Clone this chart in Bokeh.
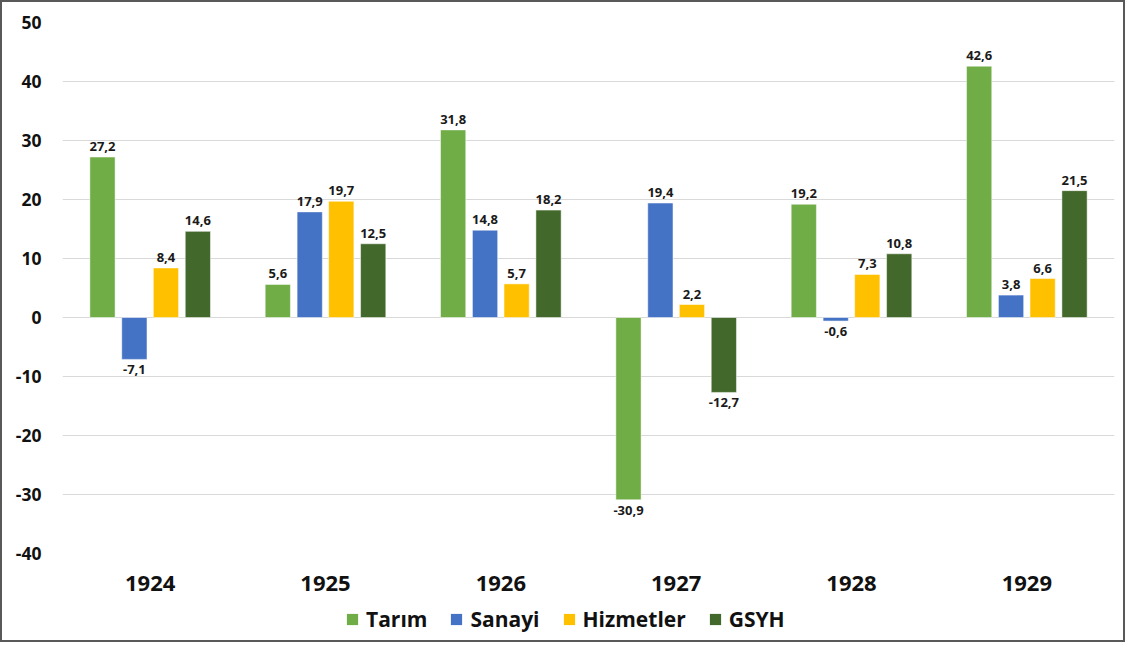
from bokeh.plotting import figure
from bokeh.layouts import column
from bokeh.models import ColumnDataSource, FactorRange, Range1d, Legend, LegendItem, SingleIntervalTicker, PrintfTickFormatter
from bokeh.transform import dodge
from bokeh.core.properties import value
from bokeh.embed import file_html
from bokeh.resources import INLINE

years = ["1924", "1925", "1926", "1927", "1928", "1929"]
series_names = ["Tarım", "Sanayi", "Hizmetler", "GSYH"]
tarim = [27.2, 5.6, 31.8, -30.9, 19.2, 42.6]
sanayi = [-7.1, 17.9, 14.8, 19.4, -0.6, 3.8]
hizmetler = [8.4, 19.7, 5.7, 2.2, 7.3, 6.6]
gsyh = [14.6, 12.5, 18.2, -12.7, 10.8, 21.5]
colors = ["#70AD47", "#4472C4", "#FFC000", "#43682B"]
offsets = [-0.272, -0.09, 0.09, 0.272]

FONT = "Open Sans"

p = figure(x_range=FactorRange(*years, range_padding=0), y_range=(-40, 50),
           frame_width=1052, frame_height=531, output_backend="svg", toolbar_location=None,
           min_border_left=60, min_border_right=9, min_border_top=20, min_border_bottom=45)
p.outline_line_color = None
p.background_fill_color = "white"
p.border_fill_color = "white"

p.xgrid.grid_line_color = None
p.ygrid.grid_line_color = "#D9D9D9"
p.ygrid.grid_line_width = 1
p.yaxis.ticker = SingleIntervalTicker(interval=10)
p.yaxis.formatter = PrintfTickFormatter(format="%d")

for ax in (p.xaxis, p.yaxis):
    ax.axis_line_color = None
    ax.major_tick_line_color = None
    ax.minor_tick_line_color = None
    ax.major_label_text_font = FONT
    ax.major_label_text_font_style = "bold"
    ax.major_label_text_color = "#111111"
p.yaxis.major_label_text_font_size = "17.5px"
p.yaxis.major_label_standoff = 15
p.xaxis.major_label_text_font_size = "22px"
p.xaxis.major_label_standoff = 16

# legend strip below the chart (its bars lie outside its visible y range; only the legend shows)
pl = figure(width=1121, height=42, x_range=FactorRange(*years), y_range=Range1d(100, 101),
            output_backend="svg", toolbar_location=None, min_border_left=0, min_border_right=0,
            min_border_top=0, min_border_bottom=0)
pl.axis.visible = False
pl.grid.grid_line_color = None
pl.outline_line_color = None

items = []
for name, vals, col, off in zip(series_names, [tarim, sanayi, hizmetler, gsyh], colors, offsets):
    src = ColumnDataSource(dict(
        x=years, top=vals,
        label=[("%.1f" % v).replace(".", ",") for v in vals],
        yoff=[-6 if v >= 0 else 6 for v in vals],
        base=["bottom" if v >= 0 else "top" for v in vals],
    ))
    p.vbar(x=dodge("x", off, range=p.x_range), top="top", bottom=0, width=0.144,
           source=src, fill_color=col, line_color="white", line_alpha=0.5, line_width=1)
    p.text(x=dodge("x", off, range=p.x_range), y="top", text="label", source=src,
           y_offset="yoff", text_baseline="base", text_align="center",
           text_font=value(FONT), text_font_style="bold", text_font_size="13px",
           text_color="#1a1a1a")
    lr = pl.vbar(x="x", top="top", bottom=0, width=0.1, source=src, fill_color=col, line_color=None)
    items.append(LegendItem(label=name, renderers=[lr]))

legend = Legend(items=items, orientation="horizontal", location=(283, 7),
                label_text_font=FONT, label_text_font_style="bold", label_text_font_size="21px",
                label_text_color="#111111", glyph_width=14, glyph_height=14,
                label_standoff=7, spacing=22, border_line_color=None,
                background_fill_alpha=0, padding=2, margin=0)
pl.add_layout(legend)

layout = column(p, pl, spacing=0, styles={"border": "2px solid #595959", "background-color": "white"})

open("out.html", "w").write(file_html(layout, INLINE))
